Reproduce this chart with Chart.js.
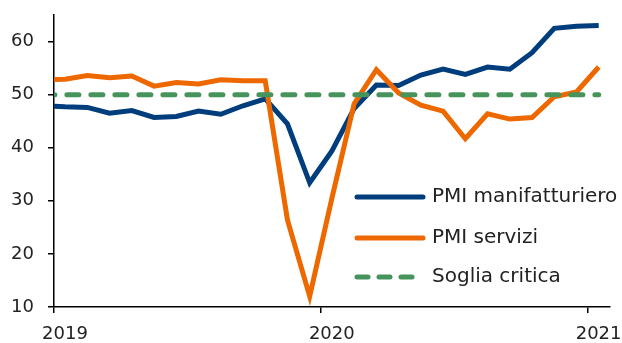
<!DOCTYPE html>
<html>
<head>
<meta charset="utf-8">
<script src="https://cdn.jsdelivr.net/npm/chart.js@4/dist/chart.umd.min.js"></script>
<style>
  html, body { margin: 0; padding: 0; background: #fff; }
</style>
</head>
<body>
<canvas id="pmi-chart" width="622" height="343"></canvas>
<script>
// mesi (aprile 2019 - maggio 2021)
const months = ['2019-04', '2019-05', '2019-06', '2019-07', '2019-08', '2019-09', '2019-10', '2019-11', '2019-12',
    '2020-01', '2020-02', '2020-03', '2020-04', '2020-05', '2020-06', '2020-07', '2020-08', '2020-09', '2020-10',
    '2020-11', '2020-12', '2021-01', '2021-02', '2021-03', '2021-04', '2021-05'];
const pmiManifattura = [47.9, 47.7, 47.6, 46.5, 47.0, 45.7, 45.9, 46.9, 46.3, 47.9, 49.2, 44.5, 33.4,
    39.4, 47.4, 51.8, 51.7, 53.7, 54.8, 53.8, 55.2, 54.8, 57.9, 62.5, 62.9, 63.0];
const pmiServizi = [52.8, 52.9, 53.6, 53.2, 53.5, 51.6, 52.3, 52.0, 52.8, 52.6, 52.6, 26.4, 12.0,
    30.5, 48.3, 54.7, 50.3, 48.0, 46.9, 41.7, 46.4, 45.4, 45.7, 49.6, 50.5, 55.2];
const soglia = [50, 50, 50, 50, 50, 50, 50, 50, 50, 50, 50, 50, 50,
    50, 50, 50, 50, 50, 50, 50, 50, 50, 50, 50, 50, 50];
const yearLabels = ['2019', '2020', '2021'];
const yearTicks = [3.5, 15.5, 27.5]; // inizio di ogni anno sull'asse
const yTicks = [10, 20, 30, 40, 50, 60];

// indice del mese a partire da gennaio 2019
const monthIndex = m => (parseInt(m.slice(0, 4)) - 2019) * 12 + parseInt(m.slice(5, 7)) - 1;
const toPoints = arr => arr.map((v, i) => ({ x: monthIndex(months[i]), y: v }));

const FONT = "'DejaVu Sans', sans-serif";

// legenda dentro l'area del grafico, in basso a destra
const legendaInterna = {
    id: 'legendaInterna',
    afterDraw(chart) {
        const ctx = chart.ctx;
        const rows = [197, 238, 277];
        ctx.save();
        chart.data.datasets.forEach((ds, i) => {
            const y = rows[i];
            ctx.strokeStyle = ds.borderColor;
            ctx.lineWidth = 5;
            ctx.lineCap = 'round';
            ctx.setLineDash(ds.borderDash ? [11, 11] : []);
            ctx.beginPath();
            ctx.moveTo(357, y);
            ctx.lineTo(423, y);
            ctx.stroke();
            ctx.setLineDash([]);
            ctx.fillStyle = '#222';
            ctx.font = '20px ' + FONT;
            ctx.textBaseline = 'middle';
            ctx.fillText(ds.label, 432, y);
        });
        ctx.restore();
    }
};

const ctx = document.getElementById('pmi-chart').getContext('2d');
const pmiChart = new Chart(ctx, {
    type: 'line',
    data: {
        datasets: [{
            label: 'PMI manifatturiero',
            data: toPoints(pmiManifattura),
            borderColor: '#003d7c',
            borderWidth: 5,
            pointRadius: 0,
            tension: 0,
            clip: 0,
            order: 2
        }, {
            label: 'PMI servizi',
            data: toPoints(pmiServizi),
            borderColor: '#ee6800',
            borderWidth: 5,
            pointRadius: 0,
            tension: 0,
            clip: 0,
            order: 1
        }, {
            label: 'Soglia critica',
            data: toPoints(soglia),
            borderColor: '#46935c',
            borderWidth: 5,
            borderDash: [12, 12],
            borderCapStyle: 'round',
            pointRadius: 0,
            clip: 0,
            order: 0
        }]
    },
    options: {
        responsive: false,
        animation: false,
        devicePixelRatio: 1,
        layout: { padding: { top: 15, right: 12, left: 0, bottom: 0 } },
        plugins: {
            legend: { display: false },
            tooltip: { enabled: false }
        },
        scales: {
            x: {
                type: 'linear',
                min: 3.5,
                max: 28.5,
                afterBuildTicks: s => { s.ticks = yearTicks.map(v => ({ value: v })); },
                afterFit: s => { s.height = 36; },
                grid: { drawOnChartArea: false, drawTicks: true, tickLength: 6, color: '#000', lineWidth: 1.5 },
                border: { color: '#000', width: 1.5 },
                ticks: {
                    font: { family: FONT, size: 18 },
                    color: '#222',
                    padding: 11,
                    labelOffset: 11,
                    maxRotation: 0,
                    autoSkip: false,
                    callback: (v, i) => yearLabels[i]
                }
            },
            y: {
                min: 10,
                max: 65,
                afterBuildTicks: s => { s.ticks = yTicks.map(v => ({ value: v })); },
                afterFit: s => { s.width = 54; s.paddingTop = 0; s.paddingBottom = 0; },
                grid: { drawOnChartArea: false, drawTicks: true, tickLength: 6, color: '#000', lineWidth: 1.5 },
                border: { color: '#000', width: 1.5 },
                ticks: {
                    font: { family: FONT, size: 18 },
                    color: '#222',
                    padding: 14
                }
            }
        }
    },
    plugins: [legendaInterna]
});
</script>
</body>
</html>
